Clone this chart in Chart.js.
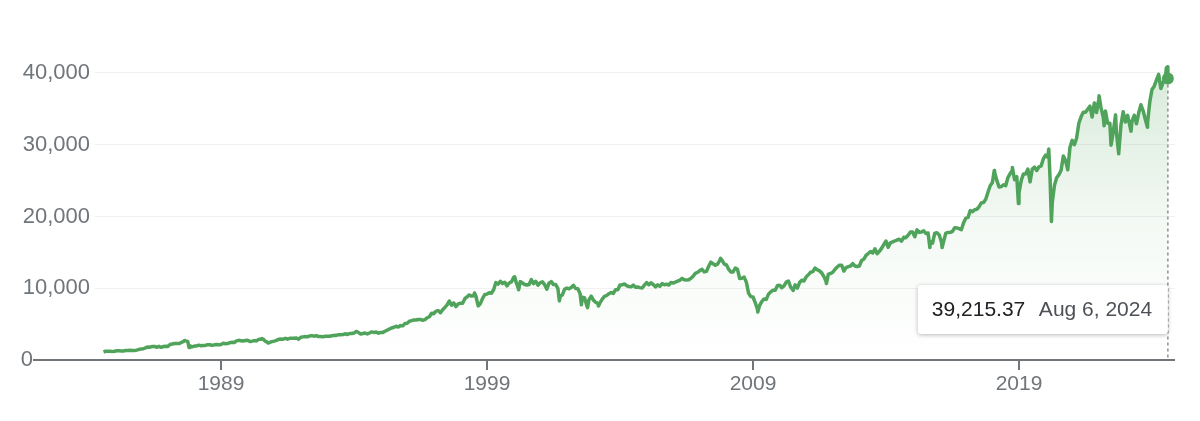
<!DOCTYPE html>
<html>
<head>
<meta charset="utf-8">
<script src="https://cdn.jsdelivr.net/npm/chart.js@4/dist/chart.umd.min.js"></script>
<style>
  html, body { margin: 0; padding: 0; background: #fff; }
  #wrap { position: relative; width: 1200px; height: 421px; }
</style>
</head>
<body>
<div id="wrap"><canvas id="myChart"></canvas></div>
<script>
// month-end closes, starting Jul 1984
var firstYear = 1984, firstMonth = 7;
var monthlyClose = [
  1115, 1224, 1207, 1207, 1188, 1212,                                   // 1984
  1287, 1284, 1267, 1258, 1315, 1336, 1348, 1334, 1329, 1374, 1472, 1547, // 1985
  1571, 1709, 1819, 1784, 1877, 1893, 1775, 1898, 1768, 1878, 1914, 1896, // 1986
  2158, 2224, 2305, 2286, 2292, 2419, 2572, 2663, 2596, 1994, 1834, 1939, // 1987
  1958, 2072, 1988, 2032, 2031, 2142, 2129, 2032, 2113, 2149, 2115, 2169, // 1988
  2342, 2259, 2294, 2419, 2480, 2440, 2661, 2737, 2693, 2645, 2706, 2753, // 1989
  2591, 2627, 2707, 2657, 2877, 2881, 2905, 2614, 2453, 2442, 2560, 2634, // 1990
  2736, 2882, 2914, 2888, 3028, 2907, 3025, 3044, 3017, 3069, 2895, 3169, // 1991
  3224, 3267, 3236, 3359, 3397, 3319, 3394, 3257, 3272, 3226, 3306, 3301, // 1992
  3310, 3371, 3435, 3428, 3527, 3516, 3540, 3651, 3555, 3681, 3684, 3754, // 1993
  3978, 3832, 3636, 3682, 3758, 3625, 3765, 3913, 3843, 3908, 3739, 3834, // 1994
  3844, 4011, 4158, 4321, 4465, 4556, 4709, 4611, 4789, 4756, 5075, 5117, // 1995
  5395, 5486, 5588, 5569, 5643, 5655, 5529, 5616, 5882, 6029, 6522, 6448, // 1996
  6813, 6878, 6584, 7009, 7331, 7673, 8223, 7622, 7945, 7442, 7823, 7908, // 1997
  7907, 8546, 8800, 9063, 8900, 8952, 8883, 7539, 7843, 8592, 9117, 9181, // 1998
  9359, 9307, 9786, 10789, 10560, 10971, 10655, 10829, 10337, 10730, 10878, 11497, // 1999
  10941, 10128, 10922, 10734, 10522, 10448, 10522, 11215, 10651, 10971, 10415, 10788, // 2000
  10887, 10495, 9879, 10735, 10912, 10502, 10523, 9950, 8848, 9075, 9852, 10022, // 2001
  9920, 10106, 10404, 9946, 9925, 9243, 8737, 8664, 7592, 8397, 8896, 8342, // 2002
  8054, 7891, 7992, 8480, 8850, 8985, 9234, 9416, 9275, 9801, 9782, 10454, // 2003
  10488, 10584, 10358, 10226, 10188, 10435, 10140, 10174, 10080, 10027, 10428, 10783, // 2004
  10490, 10766, 10504, 10193, 10467, 10275, 10641, 10482, 10569, 10440, 10806, 10718, // 2005
  10865, 10993, 11109, 11367, 11168, 11150, 11186, 11381, 11679, 12081, 12222, 12463, // 2006
  12622, 12269, 12354, 13063, 13628, 13409, 13212, 13358, 13896, 13930, 13372, 13265, // 2007
  12650, 12266, 12263, 12820, 12638, 11350, 11378, 11544, 10851, 9325, 8829, 8776, // 2008
  8001, 7063, 7609, 8168, 8500, 8447, 9172, 9496, 9712, 9713, 10345, 10428, // 2009
  10067, 10325, 10857, 11009, 10137, 9774, 10466, 10015, 10788, 11118, 11006, 11578, // 2010
  11892, 12226, 12320, 12811, 12570, 12414, 12143, 11614, 10913, 11955, 12046, 12218, // 2011
  12633, 12952, 13212, 13214, 12393, 12880, 13009, 13091, 13437, 13096, 13026, 13104, // 2012
  13861, 14054, 14579, 14840, 15116, 14910, 15500, 14810, 15130, 15546, 16086, 16577, // 2013
  15699, 16322, 16458, 16581, 16717, 16827, 16563, 17098, 17043, 17391, 17828, 17823, // 2014
  17165, 18133, 17776, 17841, 18011, 17620, 17690, 16528, 16285, 17664, 17720, 17425, // 2015
  16466, 16517, 17685, 17774, 17787, 17930, 18432, 18401, 18308, 18142, 19124, 19763, // 2016
  19864, 20812, 20663, 20941, 21009, 21350, 21891, 21948, 22405, 23377, 24272, 24719, // 2017
  26149, 25029, 24103, 24163, 24416, 24271, 25415, 25965, 26458, 25116, 25538, 23327, // 2018
  24999, 25916, 25929, 26593, 24815, 26600, 26864, 26403, 26917, 27046, 28051, 28538, // 2019
  28256, 25409, 21917, 24346, 25383, 25813, 26428, 28430, 27782, 26502, 29638, 30606, // 2020
  29983, 30932, 32982, 33875, 34529, 34503, 34935, 35361, 33844, 35820, 34484, 36338, // 2021
  35132, 33893, 34678, 32977, 32990, 30775, 32845, 31510, 28726, 32733, 34590, 33147, // 2022
  34086, 32657, 33274, 34098, 32908, 34408, 35560, 34722, 33508, 33053, 35951, 37690, // 2023
  38150, 38996, 39807, 37816, 38686, 39119, 40843                          // 2024
];

// highs and lows between month ends
var swingDates  = [1987.64, 1987.80, 1990.54, 1990.78, 1998.53, 2000.04, 2000.19, 2001.72, 2002.55, 2002.78,
                   2003.19, 2007.78, 2009.18, 2010.51, 2011.76, 2015.65, 2016.11, 2018.07, 2018.75, 2018.98,
                   2020.12, 2020.22, 2022.01, 2022.20, 2022.46, 2022.63, 2022.75, 2023.21, 2023.83, 2024.54, 2024.595];
var swingValues = [2722, 1739, 2999, 2365, 9338, 11600, 9796, 8236, 7702, 7286,
                   7524, 14165, 6700, 9686, 10655, 15666, 15660, 26400, 26828, 21792,
                   29400, 19300, 36799, 32632, 29927, 34152, 28900, 31874, 32418, 40700, 38703];

var lastDate = 2024.597, lastValue = 39215.37, lastLabel = 'Aug 6, 2024';

var yearTicks = [1989, 1999, 2009, 2019];
var valueTicks = [0, 10000, 20000, 30000, 40000];

var green = '#50a35a';
var grey = '#70757a';
var FONT = 'Arial, "Liberation Sans", sans-serif';

// build points
var points = [];
for (var i = 0; i < monthlyClose.length; i++) {
  points.push({ x: firstYear + (firstMonth + i) / 12, y: monthlyClose[i] });
}
for (var k = 0; k < swingDates.length; k++) {
  points.push({ x: swingDates[k], y: swingValues[k] });
}
points.sort(function(a, b){ return a.x - b.x; });
points.push({ x: lastDate, y: lastValue });

// baseline, zero label, dashed marker and value box
var overlay = {
  id: 'overlay',
  afterDatasetsDraw: function(chart){
    var ctx = chart.ctx, xs = chart.scales.x, ys = chart.scales.y;
    var px = xs.getPixelForValue(lastDate), py = ys.getPixelForValue(lastValue);
    var y0 = ys.getPixelForValue(0);
    ctx.save();
    // dashed line
    ctx.strokeStyle = '#8a8f94';
    ctx.lineWidth = 1.5;
    ctx.setLineDash([3, 3]);
    ctx.beginPath(); ctx.moveTo(px, py); ctx.lineTo(px, y0); ctx.stroke();
    ctx.setLineDash([]);
    // axis line
    ctx.strokeStyle = grey;
    ctx.lineWidth = 2;
    ctx.beginPath(); ctx.moveTo(33, y0); ctx.lineTo(chart.chartArea.right, y0); ctx.stroke();
    ctx.fillStyle = grey;
    ctx.font = '22px ' + FONT;
    ctx.textAlign = 'right'; ctx.textBaseline = 'middle';
    ctx.fillText('0', 33, y0);
    // dot
    ctx.fillStyle = green;
    ctx.beginPath(); ctx.arc(px, py, 6, 0, Math.PI * 2); ctx.fill();
    // value box
    var bw = 250, bh = 49, bx = px - bw, by = 285;
    ctx.shadowColor = 'rgba(0,0,0,0.28)';
    ctx.shadowBlur = 4; ctx.shadowOffsetY = 1;
    ctx.fillStyle = '#fff';
    ctx.beginPath();
    ctx.roundRect(bx, by, bw, bh, 3);
    ctx.fill();
    ctx.shadowColor = 'transparent';
    ctx.font = '21px ' + FONT;
    ctx.textAlign = 'left';
    ctx.fillStyle = '#202124';
    ctx.fillText(lastValue.toLocaleString('en-US', {minimumFractionDigits: 2}), bx + 14, by + bh / 2 + 1);
    ctx.fillStyle = '#4d5156';
    ctx.fillText(lastLabel, bx + 121, by + bh / 2 + 1);
    ctx.restore();
  }
};

var ctx = document.getElementById('myChart').getContext('2d');
var myChart = new Chart(ctx, {
  type: 'line',
  data: {
    datasets: [{
      data: points,
      borderColor: green,
      borderWidth: 3.5,
      borderJoinStyle: 'round',
      tension: 0,
      pointRadius: 0,
      pointHoverRadius: 0,
      fill: 'origin',
      backgroundColor: function(c){
        var a = c.chart.chartArea;
        if (!a) return 'rgba(80,163,90,0.1)';
        var g = c.chart.ctx.createLinearGradient(0, c.chart.scales.y.getPixelForValue(40000), 0, a.bottom);
        g.addColorStop(0, 'rgba(80,163,90,0.22)');
        g.addColorStop(0.55, 'rgba(80,163,90,0.06)');
        g.addColorStop(1, 'rgba(80,163,90,0)');
        return g;
      }
    }]
  },
  options: {
    responsive: true,
    maintainAspectRatio: false,
    animation: false,
    events: [],
    layout: { padding: { top: 37, right: 25, left: 0, bottom: 0 } },
    plugins: { legend: { display: false }, tooltip: { enabled: false } },
    scales: {
      x: {
        type: 'linear',
        min: 1984.263,
        max: 2024.865,
        afterBuildTicks: function(s){ s.ticks = yearTicks.map(function(v){ return { value: v }; }); },
        afterFit: function(s){ s.height = 61; },
        border: { display: false },
        grid: { drawOnChartArea: false, drawTicks: true, tickLength: 10, color: grey, lineWidth: 2 },
        ticks: {
          color: grey,
          font: { family: FONT, size: 21 },
          padding: 2,
          maxRotation: 0,
          callback: function(v){ return String(v); }
        }
      },
      y: {
        min: 0,
        max: 45000,
        afterBuildTicks: function(s){ s.ticks = valueTicks.map(function(v){ return { value: v }; }); },
        afterFit: function(s){ s.width = 95; },
        border: { display: false },
        grid: { color: '#f1f1f1', lineWidth: 1, drawTicks: false },
        ticks: {
          color: grey,
          font: { family: FONT, size: 22 },
          padding: 5,
          callback: function(v){ return v === 0 ? '' : v.toLocaleString('en-US'); }
        }
      }
    }
  },
  plugins: [overlay]
});
</script>
</body>
</html>
